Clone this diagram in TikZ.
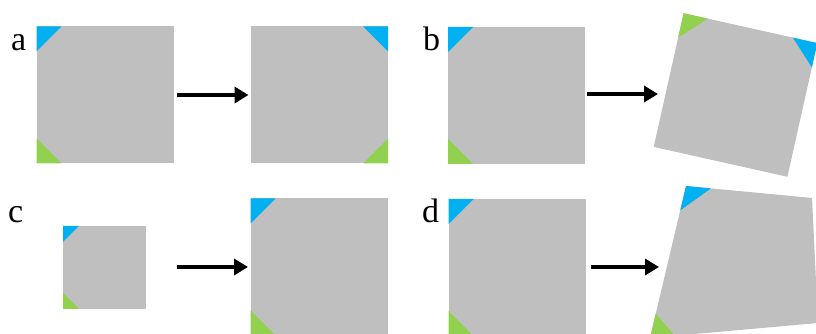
\documentclass[tikz,border=0pt]{standalone}
\usepackage{fontspec}
\setmainfont{Liberation Serif}
\usetikzlibrary{arrows.meta, calc}
\definecolor{sqgrey}{HTML}{BFBFBF}
\definecolor{cornerblue}{HTML}{00B0F0}
\definecolor{cornergreen}{HTML}{92D050}

% corner triangle: colour, corner, neighbour 1, neighbour 2, leg length
\newcommand{\cornertri}[5]{%
  \fill[#1] (#2) -- ($(#2)!#5!(#3)$) -- ($(#2)!#5!(#4)$) -- cycle;}

\begin{document}
\begin{tikzpicture}[
    x=1pt, y=1pt,
    sq/.style={fill=sqgrey, draw=none, minimum size=#1, inner sep=0pt, outer sep=0pt},
    sq/.default=137pt,
    arrow/.style={-{Triangle[length=14pt, width=16pt]}, line width=4.5pt},
    lbl/.style={anchor=base west, inner sep=0pt, font=\fontsize{34}{40}\selectfont},
]
\clip (0,0) rectangle (816,334);

% Panel a
\node[lbl] (la) at (11,283) {a};
\node[sq] (a1) at (105,239) {};
\node[sq] (a2) at (319.5,239) {};
\cornertri{cornerblue}{a1.north west}{a1.north east}{a1.south west}{25pt}
\cornertri{cornergreen}{a1.south west}{a1.south east}{a1.north west}{25pt}
\cornertri{cornerblue}{a2.north east}{a2.north west}{a2.south east}{25pt}
\cornertri{cornergreen}{a2.south east}{a2.south west}{a2.north east}{25pt}
\draw[arrow] ([xshift=3.5pt]a1.east) -- ([xshift=-2.5pt]a2.west);

% Panel b
\node[lbl] (lb) at (423,283) {b};
\node[sq] (b1) at (516.5,238.5) {};
\node[sq, rotate=-12.6] (b2) at (735.5,239) {};
\coordinate (b2in) at (658,240);
\cornertri{cornerblue}{b1.north west}{b1.north east}{b1.south west}{25pt}
\cornertri{cornergreen}{b1.south west}{b1.south east}{b1.north west}{25pt}
\cornertri{cornergreen}{b2.north west}{b2.north east}{b2.south west}{25pt}
\cornertri{cornerblue}{b2.north east}{b2.north west}{b2.south east}{25pt}
\draw[arrow] ([xshift=2pt]b1.east |- b2in) -- (b2in);

% Panel c
\node[lbl] (lc) at (8,111) {c};
\node[sq=83pt] (c1) at (104.5,66.5) {};
\node[sq] (c2) at (319,67) {};
\cornertri{cornerblue}{c1.north west}{c1.north east}{c1.south west}{16pt}
\cornertri{cornergreen}{c1.south west}{c1.south east}{c1.north west}{16pt}
\cornertri{cornerblue}{c2.north west}{c2.north east}{c2.south west}{25pt}
\cornertri{cornergreen}{c2.south west}{c2.south east}{c2.north west}{25pt}
\draw[arrow] ([xshift=3.5pt]a1.east |- c2.west) -- ([xshift=-2.5pt]c2.west);

% Panel d
\node[lbl] (ld) at (422,111) {d};
\node[sq] (d1) at (517,66.5) {};
\coordinate (d2tl) at (686,148);
\coordinate (d2tr) at (812,136);
\coordinate (d2br) at (818,11);
\coordinate (d2bl) at (650,-4);
\coordinate (d2in) at (659,67);
\fill[sqgrey] (d2tl) -- (d2tr) -- (d2br) -- (d2bl) -- cycle;
\cornertri{cornerblue}{d1.north west}{d1.north east}{d1.south west}{25pt}
\cornertri{cornergreen}{d1.south west}{d1.south east}{d1.north west}{25pt}
\cornertri{cornerblue}{d2tl}{d2tr}{d2bl}{25pt}
\cornertri{cornergreen}{d2bl}{d2br}{d2tl}{25pt}
\draw[arrow] ([xshift=5.5pt]d1.east |- d2in) -- (d2in);

\end{tikzpicture}
\end{document}
